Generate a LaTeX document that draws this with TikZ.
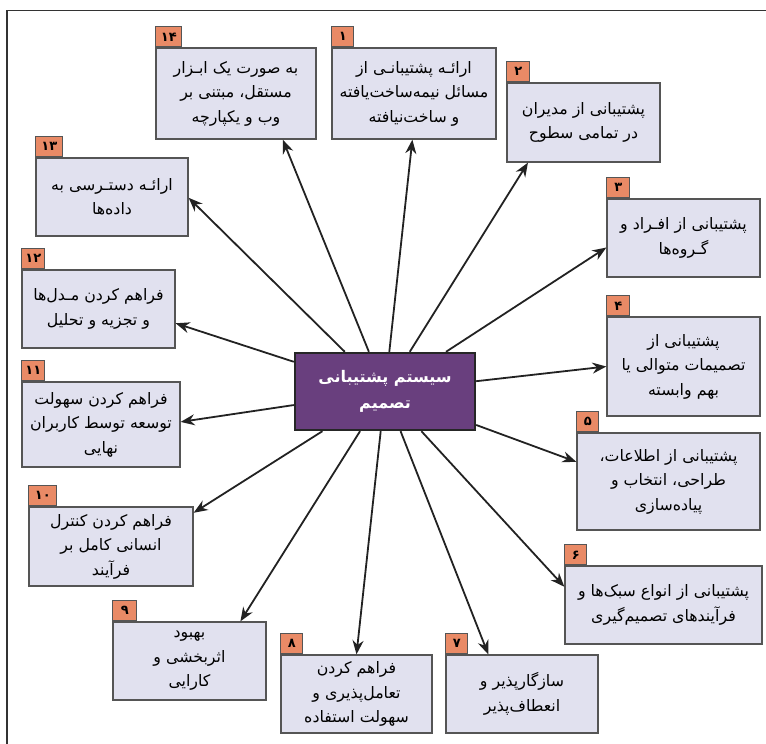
\documentclass[tikz,border=0pt]{standalone}
\usepackage{fontspec}
\usetikzlibrary{arrows.meta,calc}
\TeXXeTstate=1
\newfontfamily\arabicfont[Script=Arabic]{DejaVu Sans}
\newcommand\fa[1]{\beginR #1\endR}

\definecolor{boxfill}{HTML}{E1E1EF}
\definecolor{boxline}{HTML}{555555}
\definecolor{tabfill}{HTML}{E98A66}
\definecolor{corefill}{HTML}{693F7E}
\definecolor{arrowcol}{HTML}{222222}
\definecolor{framecol}{HTML}{333333}

\tikzset{
  item/.style={draw=boxline, line width=1.3pt, fill=boxfill, inner sep=0pt,
    align=center, font=\arabicfont\fontsize{15.8}{24.5}\selectfont},
  tabbox/.style={draw=boxline, line width=1.1pt, fill=tabfill, inner sep=0pt,
    minimum height=20pt, anchor=south west,
    font=\arabicfont\bfseries\fontsize{13}{14}\selectfont},
  core/.style={draw=black!85, line width=2.4pt, fill=corefill, text=white,
    inner sep=0pt, align=center, minimum width=180pt, minimum height=77pt,
    font=\arabicfont\bfseries\fontsize{16}{26}\selectfont},
  link/.style={draw=arrowcol, line width=1.8pt,
    -{Stealth[length=14pt,width=11pt]}},
}

\begin{document}
\begin{tikzpicture}[x=1pt,y=-1pt]
\useasboundingbox (0,0) rectangle (766,744);

% frame
\draw[framecol, line width=1.4pt] (7,744) -- (7,10.5) -- (766,10.5);

% central box
\node[core] (c) at (385,391.5) {\fa{سیستم پشتیبانی}\\\fa{تصمیم}};

% surrounding boxes with their number tabs
\node[item, minimum width=160pt, minimum height=91pt] (b14) at (236,93.5)
  {\fa{به صورت یک ابـزار}\\\fa{مستقل، مبتنی بر}\\\fa{وب و یکپارچه}};
\node[tabbox, minimum width=26pt] (t14) at (b14.north west) {۱۴};

\node[item, minimum width=164pt, minimum height=91pt] (b1) at (414,93.5)
  {\fa{ارائـه پشتیبانـی از}\\\fa{مسائل نیمه‌ساخت‌یافته}\\\fa{و ساخت‌نیافته}};
\node[tabbox, minimum width=22pt] (t1) at (b1.north west) {۱};

\node[item, minimum width=153pt, minimum height=79pt] (b2) at (583.5,122.5)
  {\fa{پشتیبانی از مدیران}\\\fa{در تمامی سطوح}};
\node[tabbox, minimum width=23pt] (t2) at (b2.north west) {۲};

\node[item, minimum width=153pt, minimum height=78pt] (b3) at (683.5,238)
  {\fa{پشتیبانی از افـراد و}\\\fa{گـروه‌ها}};
\node[tabbox, minimum width=23pt] (t3) at (b3.north west) {۳};

\node[item, minimum width=153pt, minimum height=99pt] (b4) at (683.5,366.5)
  {\fa{پشتیبانی از}\\\fa{تصمیمات متوالی یا}\\\fa{بهم وابسته}};
\node[tabbox, minimum width=23pt] (t4) at (b4.north west) {۴};

\node[item, minimum width=183pt, minimum height=97pt] (b5) at (668.5,481.5)
  {\fa{پشتیبانی از اطلاعات،}\\\fa{طراحی، انتخاب و}\\\fa{پیاده‌سازی}};
\node[tabbox, minimum width=22pt] (t5) at (b5.north west) {۵};

\node[item, minimum width=197pt, minimum height=78pt] (b6) at (663.5,605)
  {\fa{پشتیبانی از انواع سبک‌ها و}\\\fa{فرآیندهای تصمیم‌گیری}};
\node[tabbox, minimum width=22pt] (t6) at (b6.north west) {۶};

\node[item, minimum width=152pt, minimum height=78pt] (b7) at (522,694)
  {\fa{سازگارپذیر و}\\\fa{انعطاف‌پذیر}};
\node[tabbox, minimum width=22pt] (t7) at (b7.north west) {۷};

\node[item, minimum width=151pt, minimum height=78pt] (b8) at (356.5,694)
  {\fa{فراهم کردن}\\\fa{تعامل‌پذیری و}\\\fa{سهولت استفاده}};
\node[tabbox, minimum width=22pt] (t8) at (b8.north west) {۸};

\node[item, minimum width=153pt, minimum height=78pt] (b9) at (189.5,661)
  {\fa{بهبود}\\\fa{اثربخشی و}\\\fa{کارایی}};
\node[tabbox, minimum width=24pt] (t9) at (b9.north west) {۹};

\node[item, minimum width=164pt, minimum height=79pt] (b10) at (111,546.5)
  {\fa{فراهم کردن کنترل}\\\fa{انسانی کامل بر}\\\fa{فرآیند}};
\node[tabbox, minimum width=28pt] (t10) at (b10.north west) {۱۰};

\node[item, minimum width=158pt, minimum height=85pt] (b11) at (101,424.5)
  {\fa{فراهم کردن سهولت}\\\fa{توسعه توسط کاربران}\\\fa{نهایی}};
\node[tabbox, minimum width=23pt] (t11) at (b11.north west) {۱۱};

\node[item, minimum width=153pt, minimum height=78pt] (b12) at (98.5,309)
  {\fa{فراهم کردن مـدل‌ها}\\\fa{و تجزیه و تحلیل}};
\node[tabbox, minimum width=23pt] (t12) at (b12.north west) {۱۲};

\node[item, minimum width=152pt, minimum height=78pt] (b13) at (112,197)
  {\fa{ارائـه دستـرسی به}\\\fa{داده‌ها}};
\node[tabbox, minimum width=27pt] (t13) at (b13.north west) {۱۳};

% connectors from the central box
\draw[link] (c) -- ($(b14.south west)!0.79!(b14.south east)$);
\draw[link] (c) -- ($(b1.south west)!0.49!(b1.south east)$);
\draw[link] (c) -- ($(b2.south west)!0.14!(b2.south east)$);
\draw[link] (c) -- ($(b3.north west)!0.62!(b3.south west)$);
\draw[link] (c) -- (b4.west);
\draw[link] (c) -- ($(b5.north west)!0.30!(b5.south west)$);
\draw[link] (c) -- ($(b6.north west)!0.27!(b6.south west)$);
\draw[link] (c) -- ($(b7.north west)!0.28!(b7.north east)$);
\draw[link] (c) -- (b8.north);
\draw[link] (c) -- ($(b9.north west)!0.83!(b9.north east)$);
\draw[link] (c) -- ($(b10.north east)!0.08!(b10.south east)$);
\draw[link] (c) -- ($(b11.north east)!0.47!(b11.south east)$);
\draw[link] (c) -- ($(b12.north east)!0.68!(b12.south east)$);
\draw[link] (c) -- ($(b13.north east)!0.51!(b13.south east)$);
\end{tikzpicture}
\end{document}
